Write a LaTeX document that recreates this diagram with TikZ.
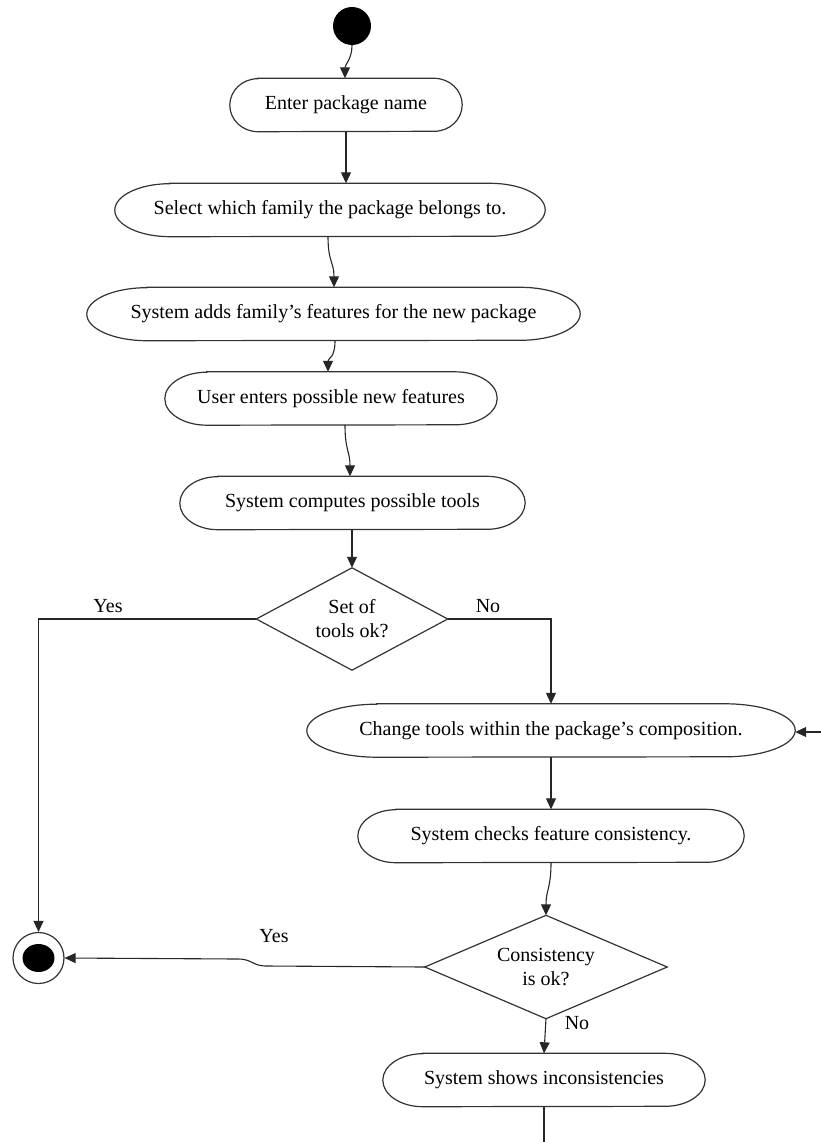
\documentclass[tikz,border=0pt]{standalone}
\usepackage{fontspec}
\setmainfont{Liberation Serif}
\usetikzlibrary{arrows.meta,calc}
\begin{document}
\begin{tikzpicture}[x=1pt,y=-1pt,
  every node/.style={font=\fontsize{20}{24}\selectfont},
  act/.style={inner sep=0pt, minimum height=53pt},
  dec/.style={inner sep=0pt, align=center},
  flow/.style={line width=1.1pt, draw=black!85, -{Triangle[length=11pt,width=10pt]}},
  plain/.style={line width=1.1pt, draw=black!85},
  outline/.style={line width=1.2pt, draw=black!80},
  lbl/.style={inner sep=0pt}]
\useasboundingbox (0,0) rectangle (821,1142);

% activity nodes
\node[act, minimum width=232pt] (enter)  at (346,105)   {Enter package name};
\node[act, minimum width=430pt] (select) at (330,210)   {Select which family the package belongs to.};
\node[act, minimum width=493pt] (adds)   at (333.5,314) {System adds family’s features for the new package};
\node[act, minimum width=332pt] (user)   at (331,398.5) {User enters possible new features};
\node[act, minimum width=345pt] (tools)  at (352.5,503) {System computes possible tools};
\node[act, minimum width=488pt] (change) at (551,730.5) {Change tools within the package’s composition.};
\node[act, minimum width=386pt] (checks) at (551,836)   {System checks feature consistency.};
\node[act, minimum width=322pt] (shows)  at (544,1080)  {System shows inconsistencies};

% decisions
\node[dec, minimum width=191pt, minimum height=102pt] (d1) at (352,619) {Set of\\tools ok?};
\node[dec, minimum width=242pt, minimum height=103pt] (d2) at (546,967) {Consistency\\is ok?};

% start and end
\node[circle, fill=black, minimum size=38pt, inner sep=0pt] (start) at (352,26) {};
\node[circle, draw=black!80, line width=1.2pt, minimum size=51pt, inner sep=0pt] (final) at (38.5,958) {};
\fill (final.center) ellipse [x radius=16pt, y radius=14pt];

% capsule outlines of the activities
\foreach \n/\r in {enter/28,select/55,adds/60,user/42,tools/38,change/70,checks/38,shows/40}
  \draw[outline] ([xshift=\r pt]\n.north west) -- ([xshift=-\r pt]\n.north east)
    arc[start angle=90,end angle=-90,x radius=\r pt,y radius=26.5pt]
    -- ([xshift=\r pt]\n.south west)
    arc[start angle=270,end angle=90,x radius=\r pt,y radius=26.5pt] -- cycle;

% diamond outlines
\foreach \n in {d1,d2}
  \draw[outline] (\n.north) -- (\n.east) -- (\n.south) -- (\n.west) -- cycle;

% free ends
\coordinate (loopin) at (821,732);
\coordinate (bottom) at (544,1142);

% connectors
\draw[flow] (start.south) .. controls +(0,14) and +(0,-14) .. ([xshift=-1pt]enter.north);
\draw[flow] (enter.south) -- (enter.south |- select.north);
\draw[flow] ([xshift=-2pt]select.south) .. controls +(0,25) and +(0,-25) .. ([xshift=0.5pt]adds.north);
\draw[flow] ([xshift=1.5pt]adds.south) .. controls +(0,18) and +(0,-14) .. ([xshift=-3pt]user.north);
\draw[flow] ([xshift=14pt]user.south) .. controls +(0,25) and +(0,-25) .. ([xshift=-2.5pt]tools.north);
\draw[flow] (d1.north |- tools.south) -- (d1.north);
\draw[flow] (d1.west) -- (final.north |- d1.west) -- (final.north);
\draw[flow] (d1.east) -- (change.north |- d1.east) -- (change.north);
\draw[flow] (loopin) -- (change.east |- loopin);
\draw[flow] (change.south) -- (checks.north);
\draw[flow] (checks.south) .. controls +(0,25) and +(0,-25) .. (d2.north);
\draw[flow] (d2.west) -- ++(-158,-1) .. controls +(-15,0) and +(15,0) .. ++(-29,-7) -- (final.east);
\draw[flow] (d2.south) -- (shows.north);
\draw[plain] (shows.south) -- (bottom);

% branch labels
\node[lbl] (yes1) at (108,606)  {Yes};
\node[lbl] (no1)  at (488,606)  {No};
\node[lbl] (yes2) at (274,936)  {Yes};
\node[lbl] (no2)  at (577,1023) {No};
\end{tikzpicture}
\end{document}
